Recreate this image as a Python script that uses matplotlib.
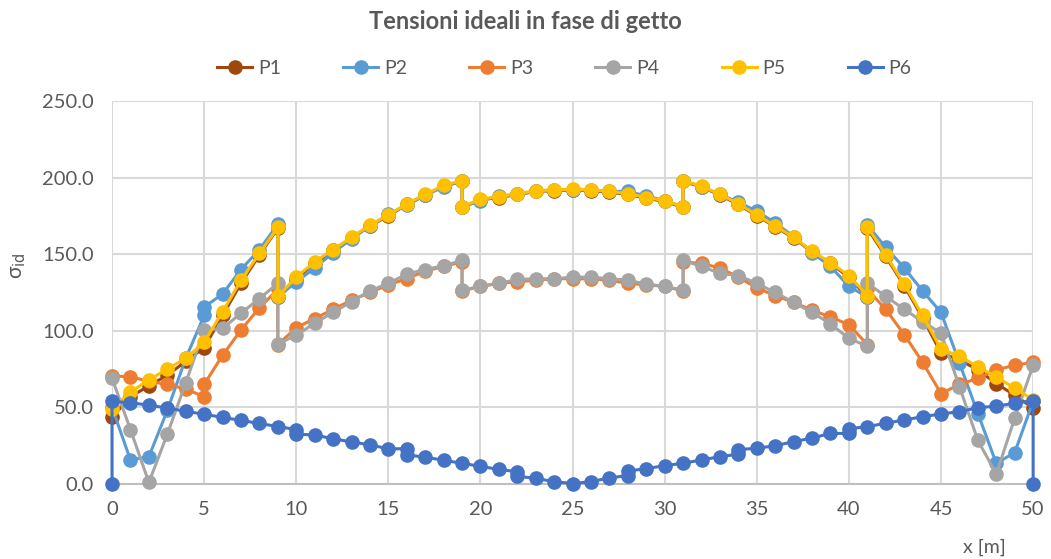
import numpy as np
import matplotlib.pyplot as plt

plt.rcParams['font.family'] = ['Lato', 'DejaVu Sans']

# x positions (duplicated x = vertical jump at that section)
x_a = [0, 1, 2, 3, 4, 5, 6, 7, 8, 9, 9,
       10, 11, 12, 13, 14, 15, 16, 17, 18, 19, 19,
       20, 21, 22, 23, 24, 25, 26, 27, 28, 29, 30, 31, 31,
       32, 33, 34, 35, 36, 37, 38, 39, 40, 41, 41,
       42, 43, 44, 45, 46, 47, 48, 49, 50]
x_b = [0, 1, 2, 3, 4, 5, 5, 6, 7, 8, 9, 9,
       10, 11, 12, 13, 14, 15, 16, 17, 18, 19, 19,
       20, 21, 22, 23, 24, 25, 26, 27, 28, 29, 30, 31, 31,
       32, 33, 34, 35, 36, 37, 38, 39, 40, 41, 41,
       42, 43, 44, 45, 46, 47, 48, 49, 50]
x_p6 = [0, 0, 1, 2, 3, 4, 5, 6, 7, 8, 9, 10, 10, 11, 12, 13, 14, 15, 16, 16,
        17, 18, 19, 20, 21, 22, 22, 23, 24, 25, 26, 27, 28, 28, 29, 30, 31, 32,
        33, 34, 34, 35, 36, 37, 38, 39, 40, 40, 41, 42, 43, 44, 45, 46, 47, 48,
        49, 50, 50]

p1 = [43.5, 57, 64, 71, 80, 89, 110, 131, 149.5, 167, 122,
      134, 144, 152.5, 160.5, 168.5, 175, 182.5, 188.5, 194.5, 197.5, 180.5,
      185.5, 187, 189, 191, 191.5, 192, 191.5, 190.5, 189, 186.5, 184.5, 180.5, 197.5,
      194, 188.5, 182.5, 175, 168, 160.5, 151.5, 144, 135, 122, 167,
      148.5, 129.5, 108.5, 85.5, 81, 74.5, 65.5, 58, 49.5]
p2 = [50, 15.7, 17.8, 48, 82, 110, 115.5, 124, 140, 153, 169.5, 122,
      132, 141, 151, 160, 168.5, 176, 182, 188.5, 194, 198, 181,
      185, 188, 189, 191, 192, 192, 192, 191, 191, 188, 185, 181, 198,
      194, 189, 184, 178, 170.5, 161.5, 151, 142, 129, 122, 169,
      154.5, 141, 126, 112, 79, 46, 13.5, 20.5, 54]
p3 = [70.5, 70, 67, 65, 62, 57, 65, 84, 100.5, 115, 127, 91,
      102, 108, 114, 120, 125, 130, 134, 139, 142, 145, 126,
      129, 131, 132, 133, 134, 134, 134, 133, 131, 130, 129, 126, 145,
      144, 141, 135, 128, 123, 118.5, 113.5, 109, 104, 91, 127,
      114, 97.5, 79.5, 59, 65, 69, 74.5, 77.5, 79.5]
p4 = [69, 35.5, 1, 32.5, 66, 100.5, 101.5, 111.5, 121, 131, 91.5,
      97, 105, 112, 119, 126, 131, 137, 140, 142.5, 146, 126.5,
      129, 131, 133.5, 134, 134, 135, 135, 134, 133, 130.5, 129, 126.5, 146,
      142, 137.5, 136, 131, 125, 118.5, 112, 104.5, 95, 90, 131,
      122.5, 114, 106, 98.5, 63.5, 28.5, 6.5, 43, 77.5]
p5 = [49, 60, 68, 75, 82, 92.5, 112.5, 133, 150.5, 167.5, 122.5,
      135, 145, 153, 161, 169, 175.5, 183, 189, 195, 198, 181,
      186, 187.5, 189.5, 191.5, 192, 192.5, 192, 191, 189.5, 187, 185, 181, 198,
      194.5, 189, 183, 175.5, 168.5, 161, 152, 144.5, 136, 123, 168,
      149.5, 130.5, 110, 88, 83.5, 76.5, 70, 62.5, 55]
p6 = [0, 54, 53, 51.5, 49.5, 47.5, 45.5, 43.5, 41.5, 39.5, 37.5, 35.5, 32.5,
      32, 29.5, 27.5, 25.5, 23, 23, 19, 17.5, 15.5, 13.5, 11.5, 9.5, 8, 5, 3.7,
      1.5, 0.3, 1.5, 4, 5.5, 8.5, 10, 12, 13.5, 15.7, 17.8, 19.5, 22.5, 23.3,
      25, 27.6, 30, 33, 33, 36, 37.5, 39.6, 41.8, 43.9, 45.7, 47.2, 49.8, 50.8,
      52.7, 54.4, 0]

series = [("P1", x_a, p1, "#9E480E"),
          ("P2", x_b, p2, "#5B9BD5"),
          ("P3", x_b, p3, "#ED7D31"),
          ("P4", x_a, p4, "#A5A5A5"),
          ("P5", x_a, p5, "#FFC000"),
          ("P6", x_p6, p6, "#4472C4")]

fig = plt.figure(figsize=(10.51, 5.59), dpi=100)
ax = fig.add_axes([0.1066, 0.1342, 0.983 - 0.1066, 0.8193 - 0.1342])

for name, xs, ys, col in series:
    ax.plot(xs, ys, color=col, lw=2.2, marker="o", markersize=9.5,
            label=name, clip_on=False, zorder=3)

ax.set_xlim(0, 50)
ax.set_ylim(0, 250)
ax.set_xticks(np.arange(0, 51, 5))
ax.set_yticks(np.arange(0, 251, 50))
ax.set_yticklabels([f"{v:.1f}" for v in np.arange(0, 251, 50)])
ax.grid(True, color="#D9D9D9", lw=1.5, zorder=0)
ax.set_axisbelow(True)
for s in ["top", "right", "left"]:
    ax.spines[s].set_visible(False)
ax.spines["bottom"].set_color("#BFBFBF")
ax.spines["bottom"].set_linewidth(1.5)
ax.tick_params(axis="y", length=0, labelsize=14.5, colors="#595959", pad=13)
ax.tick_params(axis="x", length=0, labelsize=14.5, colors="#595959", pad=12)

fig.text(0.5, 0.962, "Tensioni ideali in fase di getto", ha="center", va="center",
         fontsize=17, fontweight="bold", color="#595959")
fig.text(0.017, 0.525, "σ$_{\\mathrm{id}}$", rotation=90, ha="center", va="center",
         fontsize=15, color="#595959")
fig.text(0.937, 0.02, "x [m]", ha="center", va="center", fontsize=14, color="#595959")

fig.legend(loc="center", bbox_to_anchor=(0.537, 0.877), ncol=6, frameon=False,
           fontsize=14, handlelength=1.8, columnspacing=3.2, handletextpad=0.3,
           labelcolor="#595959")

fig.savefig("out.png", dpi=100)
